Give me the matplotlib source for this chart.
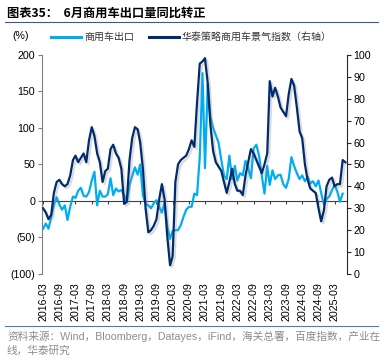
import numpy as np
import pandas as pd
import matplotlib
matplotlib.use("Agg")
import matplotlib.pyplot as plt
import matplotlib.dates as mdates
import matplotlib.patheffects as pe
from matplotlib.ticker import FuncFormatter, MultipleLocator
from matplotlib.lines import Line2D

plt.rcParams['font.family'] = ['Liberation Sans', 'Noto Sans CJK SC', 'DejaVu Sans']

# 商用车出口同比 (%), 2016-03 .. 2025-06
export_yoy = [-38, -31, -38, -22, -5, 5, -5, -12, -6, -26, -8, 6, 4, 14, 18, 7, 6, 12, 28, 40,
              -6, 14, 6, 6, 9, 31, 8, 17, 13, 15, 8, -2, 22, 34, 46, 36, 50, 8, -4, -6,
              -10, -3, 1, -8, -16, -2, -35, -52, -41, -40, -40, -33, -22, -12, -8, -8, 10, 8, 60, 175,
              45, 160, 115, 100, 90, 80, 56, 35, 30, 62, 30, 48, 28, 38, 35, 55, 45, 31, 72, 77,
              62, 35, 10, 48, 22, 42, 30, 35, 36, 23, 18, 30, 60, 48, 38, 30, 35, 27, 33, 24,
              27, 20, 28, 11, -5, 3, 6, 15, 22, 13, -1, 10]
# 华泰策略商用车景气指数 (右轴), 2016-03 .. 2025-07
boom_index = [30, 28, 25, 27, 37, 42, 43, 41, 40, 41, 45, 52, 54, 51, 53, 55, 51, 61, 67, 63,
              55, 51, 42, 47, 48, 57, 59, 55, 53, 48, 32, 33, 52, 62, 67, 66, 60, 48, 30, 19,
              20, 22, 25, 34, 41, 34, 17, 4, 8, 42, 50, 52, 53, 54, 57, 61, 58, 78, 96, 97,
              98.5, 87, 68, 56, 51, 49, 47, 42, 37, 42, 48, 41, 38, 38, 36, 45, 51, 57, 55, 52,
              49, 46, 50, 55, 88, 81, 85, 81, 76, 74, 72, 82, 89, 86, 76, 65, 62, 50, 43, 39,
              38, 37, 30, 24, 29, 40, 43, 44, 40, 41, 41, 52, 51]

export_dates = pd.date_range("2016-03-01", periods=len(export_yoy), freq="MS")
boom_dates = pd.date_range("2016-03-01", periods=len(boom_index), freq="MS")

light = "#00AEEF"
dark = "#002C6E"

fig = plt.figure(figsize=(3.89, 3.61), dpi=100)
ax = fig.add_axes([0.108, 0.241, 0.783, 0.607])
ax2 = ax.twinx()

ax.plot(export_dates, export_yoy, color=light, lw=1.6, zorder=3)
ax2.plot(boom_dates, boom_index, color=dark, lw=1.6, zorder=3,
         path_effects=[pe.SimpleLineShadow(offset=(1.5, -1.5), shadow_color="0.55", alpha=0.3),
                       pe.Normal()])

ax.set_ylim(-100, 200)
ax.yaxis.set_major_locator(MultipleLocator(50))
ax.yaxis.set_major_formatter(FuncFormatter(lambda v, p: f"({abs(int(v))})" if v < 0 else f"{int(v)}"))
ax2.set_ylim(0, 100)
ax2.yaxis.set_major_locator(MultipleLocator(10))

ax.set_xlim(pd.Timestamp("2016-02-18"), pd.Timestamp("2025-07-15"))
ax.xaxis.set_major_locator(mdates.MonthLocator(bymonth=[3, 9]))
ax.xaxis.set_major_formatter(mdates.DateFormatter("%Y-%m"))

for s in ["top", "right"]:
    ax.spines[s].set_visible(False)
for s in ["top", "left", "bottom"]:
    ax2.spines[s].set_visible(False)
ax.spines["left"].set_color("#7F7F7F")
ax.spines["bottom"].set_position(("data", 0))
ax.spines["bottom"].set_color("#404040")
ax2.spines["right"].set_color("#262626")

ax.tick_params(axis="y", direction="out", length=3, color="#7F7F7F", labelsize=7.7, pad=2)
ax.tick_params(axis="x", direction="out", length=2.5, color="#404040", labelsize=7.7,
               labelrotation=90, pad=56)
ax2.tick_params(axis="y", direction="out", length=3, color="#262626", labelsize=7.7, pad=2)

handles = [Line2D([], [], color=light, lw=2.2), Line2D([], [], color=dark, lw=2.2)]
fig.legend(handles, ["商用车出口", "华泰策略商用车景气指数（右轴）"], loc="center left",
           bbox_to_anchor=(51 / 389, 1 - 37 / 361), ncol=2, frameon=False, borderpad=0,
           borderaxespad=0, handlelength=3.0, handletextpad=0.35, columnspacing=1.4,
           prop={"family": ["Noto Sans CJK SC"], "size": 7.2}, labelcolor="#333333")
fig.text(12 / 389, 1 - 36 / 361, "(%)", fontsize=7.7, va="center", ha="left")

fig.text(7 / 389, 1 - 13 / 361, "图表35：  6月商用车出口量同比转正", fontsize=8.8, fontweight="bold",
         family=["Noto Sans CJK SC"], va="center", ha="left")
fig.add_artist(Line2D([5 / 389, 378 / 389], [1 - 21.5 / 361] * 2, color="#3B5A8A", lw=0.8))
fig.add_artist(Line2D([5 / 389, 378 / 389], [1 - 325.5 / 361] * 2, color="#4F7BB5", lw=0.8))
fig.text(7 / 389, 1 - 336 / 361, "资料来源：Wind，Bloomberg，Datayes，iFind，海关总署，百度指数，产业在",
         fontsize=7.7, color="#8C8C8C", va="center", ha="left")
fig.text(7 / 389, 1 - 351 / 361, "线，华泰研究", fontsize=7.7, color="#8C8C8C", va="center", ha="left")

fig.savefig("out.png", dpi=100)
